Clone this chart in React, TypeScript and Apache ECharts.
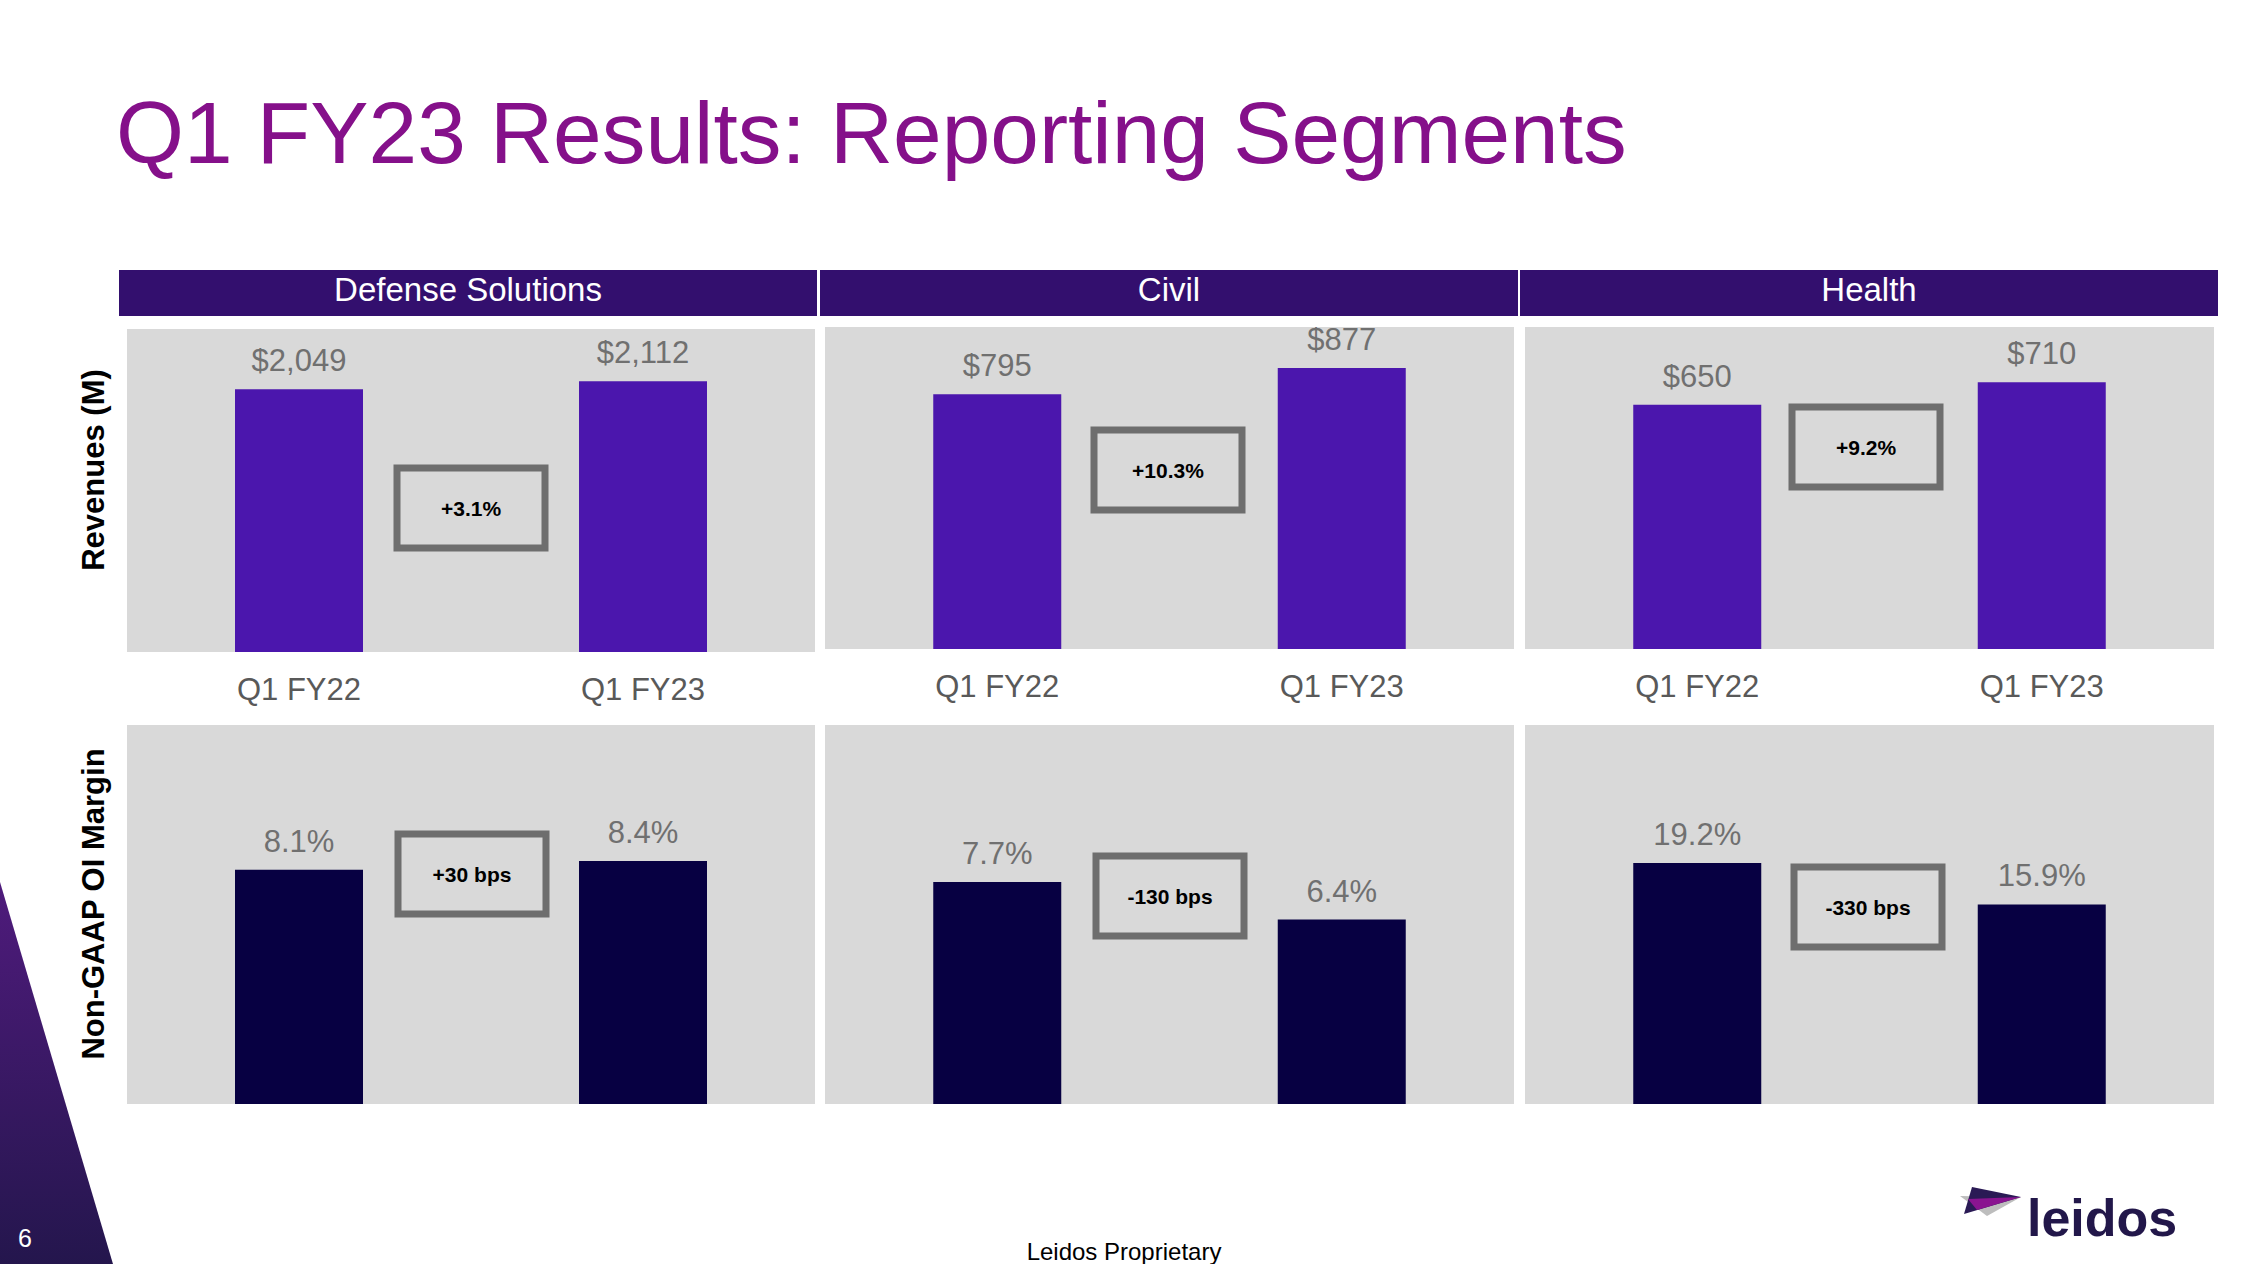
import React, { useEffect, useRef } from "react";
import * as echarts from "echarts";

// ---- Data ----
const segments = ["Defense Solutions", "Civil", "Health"];
const periods = ["Q1 FY22", "Q1 FY23"];
const revenues = [
  [2049, 2112],
  [795, 877],
  [650, 710],
];
const margins = [
  [8.1, 8.4],
  [7.7, 6.4],
  [19.2, 15.9],
];
const revenueChange = ["+3.1%", "+10.3%", "+9.2%"];
const marginChange = ["+30 bps", "-130 bps", "-330 bps"];
const revenueAxisMax = [2520, 1005, 857];
const marginAxisMax = [13.1, 13.15, 30.2];

// ---- Layout ----
const FONT = "'Liberation Sans', Arial, Helvetica, sans-serif";
const panelX = [
  { left: 127, width: 688 },
  { left: 825, width: 689 },
  { left: 1525, width: 689 },
];
const topRowY = [
  { top: 329, height: 323 },
  { top: 327, height: 322 },
  { top: 327, height: 322 },
];
const bottomRowY = { top: 725, height: 379 };
const headerX = [
  [119, 817],
  [820, 1518],
  [1520, 2218],
];
const revBoxCenters = [
  [471, 508],
  [1168, 470],
  [1866, 447],
];
const marginBoxCenters = [
  [472, 874],
  [1170, 896],
  [1868, 907],
];

const REV_COLOR = "#4B16AD";
const MARGIN_COLOR = "#070042";
const PANEL_BG = "#D9D9D9";

function buildOption() {
  const grids: any[] = [];
  const xAxes: any[] = [];
  const yAxes: any[] = [];
  const series: any[] = [];

  for (let row = 0; row < 2; row++) {
    for (let i = 0; i < 3; i++) {
      const idx = row * 3 + i;
      const y = row === 0 ? topRowY[i] : bottomRowY;
      grids.push({
        left: panelX[i].left,
        width: panelX[i].width,
        top: y.top,
        height: y.height,
        show: true,
        backgroundColor: PANEL_BG,
        borderWidth: 0,
        containLabel: false,
      });
      xAxes.push({
        type: "category",
        gridIndex: idx,
        data: periods,
        axisLine: { show: false },
        axisTick: { show: false },
        splitLine: { show: false },
        axisLabel: {
          show: row === 0,
          color: "#595959",
          fontSize: 31,
          fontFamily: FONT,
          margin: 22,
        },
      });
      yAxes.push({
        type: "value",
        gridIndex: idx,
        min: 0,
        max: row === 0 ? revenueAxisMax[i] : marginAxisMax[i],
        show: false,
        splitLine: { show: false },
      });
      series.push({
        type: "bar",
        xAxisIndex: idx,
        yAxisIndex: idx,
        data: row === 0 ? revenues[i] : margins[i],
        barWidth: 128,
        itemStyle: { color: row === 0 ? REV_COLOR : MARGIN_COLOR },
        label: {
          show: true,
          position: "top",
          distance: 13,
          color: "#707070",
          fontSize: 31,
          fontFamily: FONT,
          formatter: (p: any) =>
            row === 0
              ? "$" + Number(p.value).toLocaleString("en-US")
              : Number(p.value).toFixed(1) + "%",
        },
      });
    }
  }

  const graphics: any[] = [];

  // Decorative triangle bottom-left
  graphics.push({
    type: "polygon",
    shape: { points: [[0, 882], [113, 1264], [0, 1264]] },
    style: {
      fill: new echarts.graphic.LinearGradient(0, 0, 0, 1, [
        { offset: 0, color: "#4F1B7C" },
        { offset: 1, color: "#24164D" },
      ]),
    },
    z: 1,
  });
  graphics.push({
    type: "text",
    x: 25,
    y: 1238,
    style: { text: "6", fill: "#FFFFFF", fontSize: 25, fontFamily: FONT, align: "center", verticalAlign: "middle" },
    z: 2,
  });

  // Title
  graphics.push({
    type: "text",
    x: 116,
    y: 133,
    style: {
      text: "Q1 FY23 Results: Reporting Segments",
      fill: "#85108A",
      fontSize: 87.4,
      fontFamily: FONT,
      align: "left",
      verticalAlign: "middle",
    },
  });

  // Headers
  segments.forEach((s, i) => {
    graphics.push({
      type: "rect",
      shape: { x: headerX[i][0], y: 270, width: headerX[i][1] - headerX[i][0], height: 46 },
      style: { fill: "#330F6E" },
    });
    graphics.push({
      type: "text",
      x: (headerX[i][0] + headerX[i][1]) / 2,
      y: 289,
      style: { text: s, fill: "#FFFFFF", fontSize: 33, fontFamily: FONT, align: "center", verticalAlign: "middle" },
      z: 5,
    });
  });

  // Row titles
  graphics.push({
    type: "text",
    x: 93,
    y: 470,
    rotation: Math.PI / 2,
    style: { text: "Revenues (M)", fill: "#000000", fontSize: 31, fontWeight: "bold", fontFamily: FONT, align: "center", verticalAlign: "middle" },
  });
  graphics.push({
    type: "text",
    x: 93,
    y: 904,
    rotation: Math.PI / 2,
    style: { text: "Non-GAAP OI Margin", fill: "#000000", fontSize: 31, fontWeight: "bold", fontFamily: FONT, align: "center", verticalAlign: "middle" },
  });

  // Change boxes
  const boxW = 155;
  const boxH = 87;
  const lw = 7;
  const addBox = (c: number[], txt: string) => {
    graphics.push({
      type: "rect",
      shape: { x: c[0] - boxW / 2 + lw / 2, y: c[1] - boxH / 2 + lw / 2, width: boxW - lw, height: boxH - lw },
      style: { fill: "transparent", stroke: "#6E6E6E", lineWidth: lw },
      z: 50,
    });
    graphics.push({
      type: "text",
      x: c[0],
      y: c[1],
      style: { text: txt, fill: "#000000", fontSize: 21, fontWeight: "bold", fontFamily: FONT, align: "center", verticalAlign: "middle" },
      z: 51,
    });
  };
  revenueChange.forEach((t, i) => addBox(revBoxCenters[i], t));
  marginChange.forEach((t, i) => addBox(marginBoxCenters[i], t));

  // Footer
  graphics.push({
    type: "text",
    x: 1124,
    y: 1251,
    style: { text: "Leidos Proprietary", fill: "#000000", fontSize: 24, fontFamily: FONT, align: "center", verticalAlign: "middle" },
  });

  // Logo
  graphics.push({
    type: "polygon",
    shape: { points: [[1960, 1196], [2021, 1197], [1987, 1216]] },
    style: { fill: "#BDBDBD" },
  });
  graphics.push({
    type: "polygon",
    shape: { points: [[1972, 1187], [2021, 1197], [1964, 1214]] },
    style: { fill: "#2A1A55" },
  });
  graphics.push({
    type: "polygon",
    shape: { points: [[1968, 1199], [2021, 1197], [1977, 1210]] },
    style: { fill: "#8A1490" },
  });
  graphics.push({
    type: "text",
    x: 2027,
    y: 1218,
    style: { text: "leidos", fill: "#22174A", fontSize: 52, fontWeight: "bold", fontFamily: FONT, align: "left", verticalAlign: "middle" },
  });

  return {
    animation: false,
    backgroundColor: "#FFFFFF",
    grid: grids,
    xAxis: xAxes,
    yAxis: yAxes,
    series,
    graphic: { elements: graphics },
  };
}

export default function App() {
  const ref = useRef<HTMLDivElement>(null);
  useEffect(() => {
    document.body.style.margin = "0";
    if (!ref.current) return;
    const chart = echarts.init(ref.current, null, { renderer: "svg" });
    chart.setOption(buildOption() as any);
    return () => chart.dispose();
  }, []);
  return <div ref={ref} style={{ width: 2248, height: 1264 }} />;
}
